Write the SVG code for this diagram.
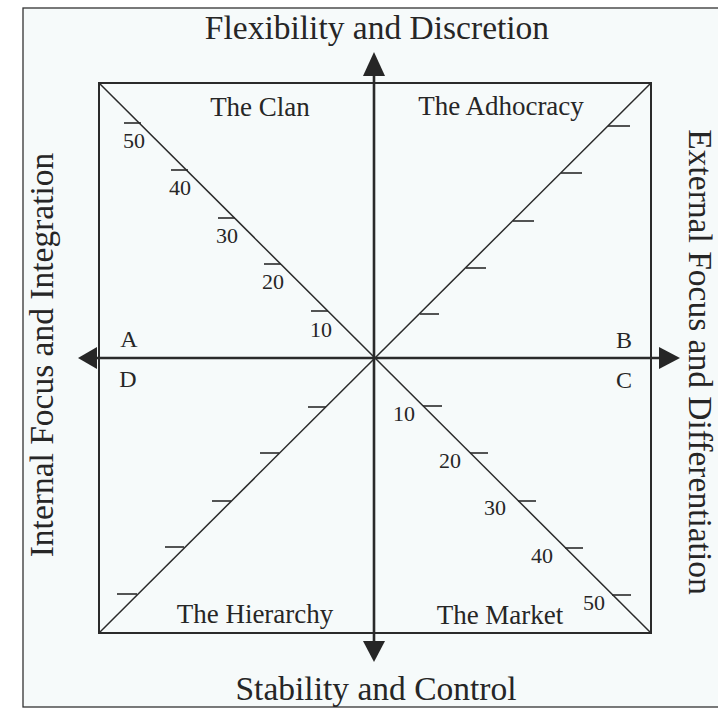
<svg xmlns="http://www.w3.org/2000/svg" width="718" height="708" viewBox="0 0 718 708">
<defs>
<style>
.t{font-family:"Liberation Serif","Times New Roman",serif;fill:#262626}
.title{font-size:33.5px;text-anchor:middle}
.quad{font-size:27px}
.corner{font-size:24px}
.num{font-size:22px}
.ln{stroke:#2a2a2a;fill:none}
.sq{stroke-width:2}
.diag{stroke-width:1.5}
.tick{stroke-width:1.6}
.axis{stroke-width:2.6}
.head{fill:#262626}
</style>
</defs>
<rect x="0" y="0" width="718" height="708" fill="#ffffff"/>
<rect x="23" y="8" width="700" height="699" fill="#f6fafa" stroke="#333" stroke-width="1.3"/>

<g id="frame">
<rect class="ln sq" x="99" y="83" width="552" height="550"/>
</g>

<g id="connectors">
<line class="ln diag" x1="99" y1="83" x2="651" y2="633"/>
<line class="ln diag" x1="651" y1="83" x2="99" y2="633"/>
<line class="ln axis" x1="374" y1="74" x2="374" y2="644"/>
<line class="ln axis" x1="94" y1="358" x2="661" y2="358"/>
<polygon class="head" points="374,52 363,76 385,76"/>
<polygon class="head" points="374,662 363,641 385,641"/>
<polygon class="head" points="78,358 97,347 97,369"/>
<polygon class="head" points="680,358 659,347 659,369"/>
</g>

<g id="clan-scale">
<line class="ln tick" x1="124" y1="123" x2="141" y2="123"/>
<line class="ln tick" x1="171" y1="170" x2="188" y2="170"/>
<line class="ln tick" x1="218" y1="218" x2="235" y2="218"/>
<line class="ln tick" x1="264" y1="264" x2="281" y2="264"/>
<line class="ln tick" x1="311" y1="311" x2="328" y2="311"/>
<text class="t num" x="134" y="148" text-anchor="middle">50</text>
<text class="t num" x="180" y="195" text-anchor="middle">40</text>
<text class="t num" x="227" y="243" text-anchor="middle">30</text>
<text class="t num" x="273" y="289" text-anchor="middle">20</text>
<text class="t num" x="321" y="337" text-anchor="middle">10</text>
</g>

<g id="adhocracy-scale">
<line class="ln tick" x1="420" y1="314" x2="439" y2="314"/>
<line class="ln tick" x1="466" y1="268" x2="486" y2="268"/>
<line class="ln tick" x1="513" y1="221" x2="534" y2="221"/>
<line class="ln tick" x1="561" y1="173" x2="582" y2="173"/>
<line class="ln tick" x1="608" y1="126" x2="630" y2="126"/>
</g>

<g id="hierarchy-scale">
<line class="ln tick" x1="308" y1="407" x2="326" y2="407"/>
<line class="ln tick" x1="260" y1="453" x2="279" y2="453"/>
<line class="ln tick" x1="212" y1="501" x2="231" y2="501"/>
<line class="ln tick" x1="165" y1="547" x2="184" y2="547"/>
<line class="ln tick" x1="117" y1="594" x2="137" y2="594"/>
</g>

<g id="market-scale">
<line class="ln tick" x1="423" y1="406" x2="442" y2="406"/>
<line class="ln tick" x1="470" y1="453" x2="488" y2="453"/>
<line class="ln tick" x1="518" y1="501" x2="536" y2="501"/>
<line class="ln tick" x1="565" y1="548" x2="583" y2="548"/>
<line class="ln tick" x1="612" y1="595" x2="631" y2="595"/>
<text class="t num" x="415" y="421" text-anchor="end">10</text>
<text class="t num" x="461" y="468" text-anchor="end">20</text>
<text class="t num" x="506" y="515" text-anchor="end">30</text>
<text class="t num" x="553" y="563" text-anchor="end">40</text>
<text class="t num" x="605" y="610" text-anchor="end">50</text>
</g>

<g id="clan"><text class="t quad" x="260" y="116" text-anchor="middle">The Clan</text></g>
<g id="adhocracy"><text class="t quad" x="501" y="115" text-anchor="middle">The Adhocracy</text></g>
<g id="hierarchy"><text class="t quad" x="255" y="623" text-anchor="middle">The Hierarchy</text></g>
<g id="market"><text class="t quad" x="500" y="624" text-anchor="middle">The Market</text></g>

<g id="corners">
<text class="t corner" x="129" y="347" text-anchor="middle">A</text>
<text class="t corner" x="624" y="348" text-anchor="middle">B</text>
<text class="t corner" x="624" y="388" text-anchor="middle">C</text>
<text class="t corner" x="128" y="387" text-anchor="middle">D</text>
</g>

<g id="axis-labels">
<text class="t title" x="377" y="39">Flexibility and Discretion</text>
<text class="t title" x="376" y="700">Stability and Control</text>
<text class="t title" transform="translate(53,355) rotate(-90)">Internal Focus and Integration</text>
<text class="t title" transform="translate(689,362) rotate(90)">External Focus and Differentiation</text>
</g>
</svg>
